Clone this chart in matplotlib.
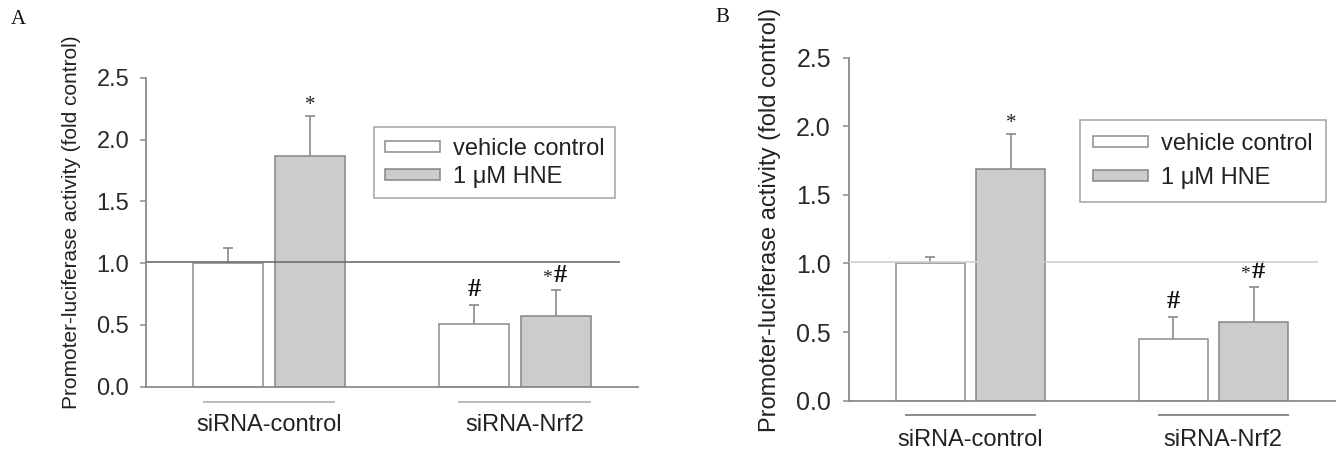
import matplotlib
matplotlib.use("Agg")
import matplotlib.pyplot as plt
import matplotlib.transforms as mtransforms
import numpy as np

plt.rcParams['font.family'] = ['Liberation Sans', 'DejaVu Sans']

groups = ["siRNA-control", "siRNA-Nrf2"]
series = ["vehicle control", "1 \u03bcM HNE"]

# panel A
a_vehicle = [1.00, 0.51]
a_vehicle_err = [0.12, 0.15]
a_hne = [1.87, 0.57]
a_hne_err = [0.32, 0.21]

# panel B
b_vehicle = [1.00, 0.45]
b_vehicle_err = [0.05, 0.16]
b_hne = [1.685, 0.57]
b_hne_err = [0.255, 0.26]

vehicle_marks = ["", "#"]
hne_marks = ["*", "*#"]
yticks = [0.0, 0.5, 1.0, 1.5, 2.0, 2.5]
ref_level = 1.01

W, H = 1344, 455
fig = plt.figure(figsize=(W / 100, H / 100), dpi=100)


def px_axes(left, right, bottom, top):
    return fig.add_axes([left / W, 1 - bottom / H, (right - left) / W, (bottom - top) / H])


def panel(ax, veh, veh_err, hne, hne_err, opt):
    x = np.arange(len(groups))
    off = 0.166
    bw = 0.285
    xv = x - off
    xh = x + off
    bv = ax.bar(xv, veh, bw, color="white", edgecolor="#8c8c8c", linewidth=1.1, zorder=2)
    bh = ax.bar(xh, hne, bw, color="#cccccc", edgecolor="#858585", linewidth=1.1, zorder=2)
    for xs, ys, es in [(xv, veh, veh_err), (xh, hne, hne_err)]:
        tops = np.array(ys) + np.array(es)
        ax.vlines(xs, ys, tops, color="#8a8a8a", lw=1.2, zorder=3)
        ax.hlines(tops, xs - 0.02, xs + 0.02, color="#8a8a8a", lw=1.2, zorder=3)
    # significance marks
    for xs, ys, es, marks in [(xv, veh, veh_err, vehicle_marks), (xh, hne, hne_err, hne_marks)]:
        for xi, yi, ei, m in zip(xs, ys, es, marks):
            top = yi + ei
            if m == "*":
                ax.text(xi, top + 0.01, "*", ha="center", va="bottom",
                        family="Liberation Serif", fontsize=15, color="#222222")
            elif m == "#":
                ax.text(xi, top + 0.03, "#", ha="center", va="bottom",
                        family="Liberation Serif", fontsize=19, fontweight="bold",
                        color="#111111")
            elif m == "*#":
                ax.text(xi - 0.036, top + 0.03, "*", ha="center", va="bottom",
                        family="Liberation Serif", fontsize=14, color="#222222")
                ax.text(xi + 0.018, top + 0.03, "#", ha="center", va="bottom",
                        family="Liberation Serif", fontsize=19, fontweight="bold",
                        color="#111111")
    ax.hlines(ref_level, -0.5, 1.43, color=opt["ref_color"], lw=1.2, zorder=4)

    ax.set_xlim(-0.5, 1.5)
    ax.set_ylim(0, 2.5)
    ax.set_yticks(yticks)
    ax.set_yticklabels(["%.1f" % t for t in yticks])
    ax.set_xticks([])
    for s in ["top", "right"]:
        ax.spines[s].set_visible(False)
    for s in ["left", "bottom"]:
        ax.spines[s].set_color("#8a8a8a")
        ax.spines[s].set_linewidth(1.3)
    ax.tick_params(axis="y", direction="out", length=4, width=1.1, color="#8a8a8a",
                   labelsize=opt["tick_size"], labelcolor="#2a2a2a", pad=opt["pad"])

    # group lines and labels under the axis
    trans = mtransforms.blended_transform_factory(ax.transData, ax.transAxes)
    centers = x + np.array([0.0, 0.04])
    for c, g in zip(centers, groups):
        ax.plot([c - 0.265, c + 0.265], [opt["line_y"]] * 2, transform=trans,
                color=opt["line_color"], lw=1.4, clip_on=False)
        ax.text(c, opt["label_y"], g, transform=trans, ha="center", va="center",
                fontsize=17, color="#222222")

    leg = ax.legend([bv, bh], series, loc="upper left", bbox_to_anchor=opt["leg_anchor"],
                    fontsize=17, frameon=True, fancybox=False, edgecolor="#8a8a8a",
                    handlelength=2.35, handleheight=0.35, handletextpad=0.55,
                    borderpad=opt["leg_pad"], labelspacing=opt["leg_space"],
                    borderaxespad=0)
    leg.get_frame().set_linewidth(1.1)
    for t in leg.get_texts():
        t.set_color("#222222")


axA = px_axes(146, 637.7, 386.7, 77.8)
panel(axA, a_vehicle, a_vehicle_err, a_hne, a_hne_err,
      dict(ref_color="#6e6e6e", tick_size=17, pad=8, line_y=-0.0495, label_y=-0.124,
           line_color="#bdbdbd", leg_anchor=(0.4637, 0.8397), leg_space=0.25,
           leg_pad=0.45))

axB = px_axes(849, 1335, 400.7, 57.5)
panel(axB, b_vehicle, b_vehicle_err, b_hne, b_hne_err,
      dict(ref_color="#cfcfcf", tick_size=18, pad=9, line_y=-0.0417, label_y=-0.1145,
           line_color="#8a8a8a", leg_anchor=(0.475, 0.818), leg_space=0.5,
           leg_pad=0.55))

fig.text(71.7 / W, 1 - 222 / H, "Promoter-luciferase activity (fold control)",
         rotation=90, ha="center", va="center", fontsize=15, color="#222222")
fig.text(770 / W, 1 - 220 / H, "Promoter-luciferase activity (fold control)",
         rotation=90, ha="center", va="center", fontsize=17, color="#222222")

fig.text(18 / W, 1 - 20 / H, "A", ha="center", va="center",
         family="Liberation Serif", fontsize=15, color="#111111")
fig.text(722 / W, 1 - 17 / H, "B", ha="center", va="center",
         family="Liberation Serif", fontsize=15, color="#111111")

fig.savefig("out.png", dpi=100, facecolor="white")
